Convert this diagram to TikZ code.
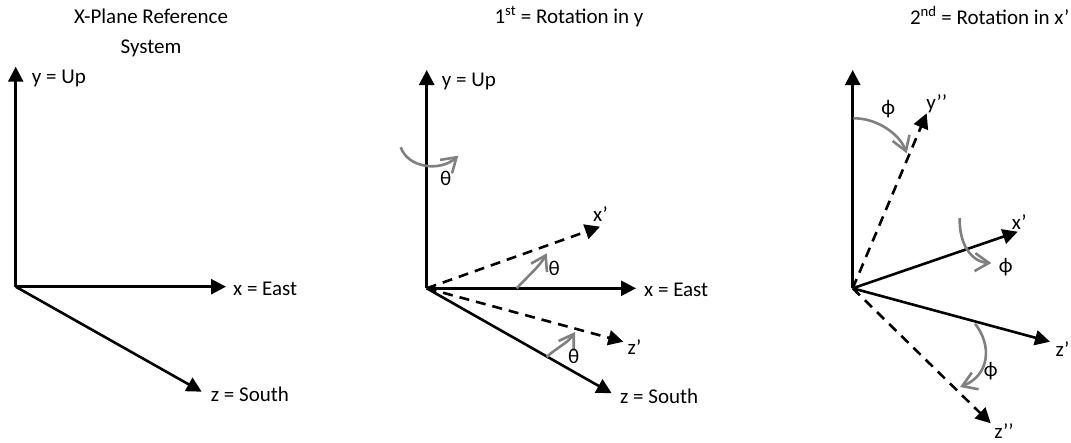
\documentclass[tikz,border=0pt]{standalone}
\usepackage{fontspec}
\setmainfont{Carlito}
\usetikzlibrary{arrows.meta}
\definecolor{rotgray}{RGB}{128,128,128}
\tikzset{
  axis/.style={line width=2.6pt, -{Triangle[length=15pt,width=15pt]}},
  dashaxis/.style={axis, dash pattern=on 10pt off 7pt},
  rotarrow/.style={draw=rotgray, line width=2.6pt, -{Straight Barb[length=14pt,width=18pt]}},
  lbl/.style={inner sep=0pt, font=\fontsize{21}{25}\selectfont},
}
\begin{document}
\begin{tikzpicture}[x=1pt,y=-1pt]
\useasboundingbox (0,0) rectangle (1071,442);

% ---------- Panel 1 ----------
\node[lbl, anchor=base] (t1a) at (151,23.3) {X-Plane Reference};
\node[lbl, anchor=base] (t1b) at (151,53.3) {System};
\coordinate (O1) at (15.7,286.7);
\coordinate (Y1) at (15.7,66.7);
\coordinate (X1) at (226,286.7);
\coordinate (Z1) at (201.7,391.7);
\draw[axis] (O1) -- (Y1);
\draw[axis] (O1) -- (X1);
\draw[axis] (O1) -- (Z1);
\node[lbl, anchor=base west] (ly1) at (31.7,83.5) {y = Up};
\node[lbl, anchor=base west] (lx1) at (233,295) {x = East};
\node[lbl, anchor=base west] (lz1) at (210.7,401.7) {z = South};

% ---------- Panel 2 ----------
\node[lbl, anchor=base] (t2) at (569,23.3) {1\textsuperscript{st} = Rotation in y};
\coordinate (O2) at (426.7,288.3);
\coordinate (Y2) at (426.7,70);
\coordinate (X2) at (636,288.3);
\coordinate (Z2) at (611.7,393.3);
\coordinate (Xp2) at (600,226.7);
\coordinate (Zp2) at (623.3,341.7);
\draw[axis] (O2) -- (Y2);
\draw[axis] (O2) -- (X2);
\draw[axis] (O2) -- (Z2);
\draw[dashaxis] (O2) -- (Xp2);
\draw[dashaxis] (O2) -- (Zp2);
\node[lbl, anchor=base west] (ly2) at (441.7,86) {y = Up};
\node[lbl, anchor=base west] (lx2) at (644,296.7) {x = East};
\node[lbl, anchor=base west] (lz2) at (620,403.3) {z = South};
\node[lbl] (lxp2) at (600.5,214) {x’};
\node[lbl] (lzp2) at (634.5,347.5) {z’};
\coordinate (r1s) at (400.7,147.3);
\coordinate (r1e) at (458.3,155.7);
\draw[rotarrow] (r1s) .. controls (408,168) and (440,172) .. (r1e);
\coordinate (r2s) at (516.7,288.3);
\coordinate (r2e) at (546.7,253.3);
\draw[rotarrow] (r2s) .. controls (526,278) and (540,266) .. (r2e);
\coordinate (r3s) at (546.7,357);
\coordinate (r3e) at (575,332);
\draw[rotarrow] (r3s) .. controls (556,348) and (568,343) .. (r3e);
\node[lbl] (th1) at (445.7,178.3) {θ};
\node[lbl] (th2) at (554.2,268.3) {θ};
\node[lbl] (th3) at (573.7,356.3) {θ};

% ---------- Panel 3 ----------
\node[lbl, anchor=base] (t3) at (989.7,24) {2\textsuperscript{nd} = Rotation in x’};
\coordinate (O3) at (852.7,288.3);
\coordinate (Y3) at (852.7,70);
\coordinate (Ypp3) at (926.7,113.3);
\coordinate (Xp3) at (1017.7,231.7);
\coordinate (Zp3) at (1050,341.7);
\coordinate (Zpp3) at (990.7,423.3);
\draw[axis] (O3) -- (Y3);
\draw[dashaxis] (O3) -- (Ypp3);
\draw[axis] (O3) -- (Xp3);
\draw[axis] (O3) -- (Zp3);
\draw[dashaxis] (O3) -- (Zpp3);
\node[lbl] (lypp3) at (936.7,104) {y’’};
\node[lbl] (lxp3) at (1019.2,222.5) {x’};
\node[lbl] (lzp3) at (1062.5,349) {z’};
\node[lbl] (lzpp3) at (1004,431) {z’’};
\coordinate (p1s) at (853.3,118.3);
\coordinate (p1e) at (906.7,153.3);
\draw[rotarrow] (p1s) .. controls (878,118) and (900,135) .. (p1e);
\coordinate (p2s) at (959.7,218);
\coordinate (p2e) at (991.3,263);
\draw[rotarrow] (p2s) .. controls (959,245) and (972,262) .. (p2e);
\coordinate (p3s) at (975,323.7);
\coordinate (p3e) at (960,387);
\draw[rotarrow] (p3s) .. controls (992,345) and (990,375) .. (p3e);
\node[lbl] (ph1) at (888.3,109.2) {ϕ};
\node[lbl] (ph2) at (1005.8,267.5) {ϕ};
\node[lbl] (ph3) at (990.8,370.8) {ϕ};
\end{tikzpicture}
\end{document}
